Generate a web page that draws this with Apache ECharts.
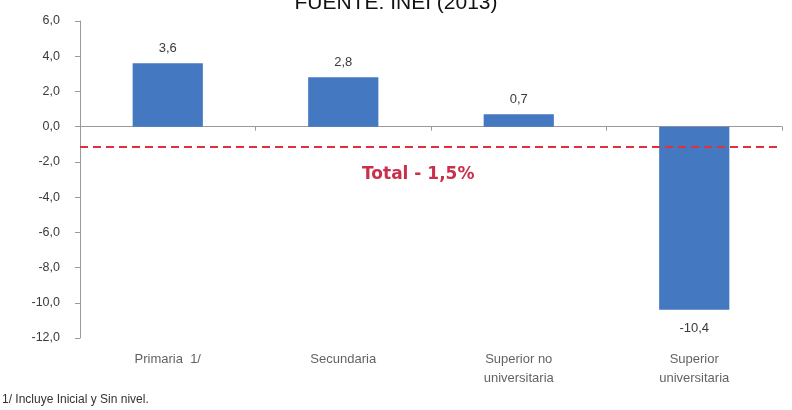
<!DOCTYPE html>
<html>
<head>
<meta charset="utf-8">
<script src="https://cdn.jsdelivr.net/npm/echarts@6/dist/echarts.min.js"></script>
<style>html,body{margin:0;padding:0;background:#fff}#c{width:792px;height:410px}</style>
</head>
<body>
<div id="c"></div>
<script>
const categories = ['Primaria  1/', 'Secundaria', 'Superior no\nuniversitaria', 'Superior\nuniversitaria'];
const values = [3.6, 2.8, 0.7, -10.4];
const yTicks = { min: -12, max: 6, interval: 2 };
const totalLinePos = -1.15;
const totalLabel = 'Total - 1,5%';
const titleText = 'FUENTE: INEI (2013)';
const footnote = '1/ Incluye Inicial y Sin nivel.';

const chart = echarts.init(document.getElementById('c'));
const fmt = v => v.toFixed(1).replace('.', ',');
chart.setOption({
  animation: false,
  textStyle: { fontFamily: 'Liberation Sans, Arial, sans-serif' },
  title: {
    text: titleText, left: 'center', top: -12,
    textStyle: { fontSize: 21, fontWeight: 'normal', color: '#111' }
  },
  graphic: [
    { type: 'text', left: 2, top: 394, style: { text: footnote, fontSize: 12, fill: '#333', fontFamily: 'Liberation Sans Narrow, Liberation Sans, Arial, sans-serif' } },
    { type: 'text', left: 362, top: 166, style: { text: totalLabel, fontSize: 17, fontWeight: 'bold', fill: '#c8304c', fontFamily: 'DejaVu Sans, Verdana, sans-serif' } }
  ],
  grid: { left: 80, right: 10, top: 21, bottom: 72 },
  xAxis: {
    type: 'category', data: categories,
    axisLine: { onZero: true, lineStyle: { color: '#9a9a9a' } },
    axisTick: { show: true, length: 4, lineStyle: { color: '#9a9a9a' } },
    axisLabel: { show: false }
  },
  yAxis: {
    type: 'value', min: yTicks.min, max: yTicks.max, interval: yTicks.interval,
    axisLine: { show: true, lineStyle: { color: '#9a9a9a' } },
    axisTick: { show: true, length: 5, lineStyle: { color: '#9a9a9a' } },
    splitLine: { show: false },
    axisLabel: { formatter: fmt, color: '#3a3a3a', fontSize: 12.5, margin: 20 }
  },
  series: [
    {
      type: 'bar',
      data: values.map(v => v < 0 ? { value: v, label: { position: 'bottom', distance: 12 } } : v),
      barWidth: '40%',
      itemStyle: { color: '#4479c1' },
      label: {
        show: true, position: 'top', distance: 8, color: '#3a3a3a', fontSize: 13,
        formatter: p => fmt(p.value)
      },
      markLine: {
        silent: true, symbol: 'none',
        lineStyle: { color: '#e0303c', type: [8, 5], width: 2 },
        label: { show: false },
        data: [{ yAxis: totalLinePos }]
      },
      z: 2
    },
    {
      type: 'scatter', data: categories.map(() => yTicks.min), symbolSize: 0,
      label: {
        show: true, position: 'bottom', distance: 12, color: '#3a3a3a', fontSize: 13,
        lineHeight: 19, formatter: p => categories[p.dataIndex]
      },
      silent: true
    }
  ]
});
</script>
</body>
</html>
